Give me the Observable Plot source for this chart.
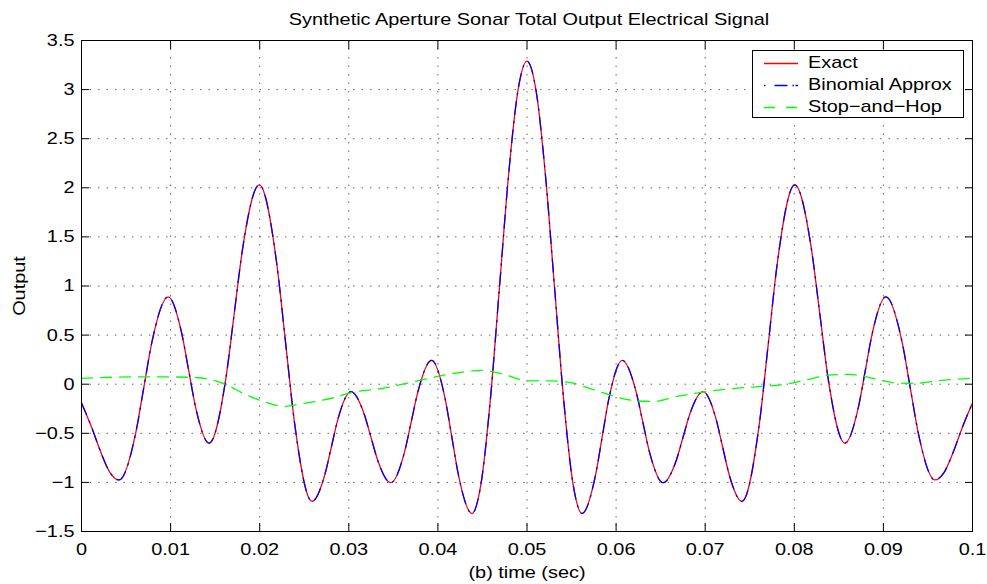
<!DOCTYPE html>
<html>
<head>
<meta charset="utf-8">
<script src="https://cdn.jsdelivr.net/npm/d3@7"></script>
<script src="https://cdn.jsdelivr.net/npm/@observablehq/plot@0.6"></script>
<style>
  html, body { margin: 0; padding: 0; background: #fff; }
  #wrap { position: relative; width: 987px; height: 584px; font-family: 'Liberation Sans', Arial, Helvetica, sans-serif; }
  #legend { position: absolute; left: 752px; top: 50px; width: 210px; height: 66px; border: 1px solid #000; background: #fff; box-sizing: content-box; }
  .row { position: absolute; left: 0; height: 22px; width: 210px; }
  .row svg { position: absolute; left: 11px; top: 10px; }
  .row span { position: absolute; left: 55px; top: 0; line-height: 22px; font-size: 17px; color: #000; white-space: nowrap; transform: scaleX(1.17); transform-origin: 0 50%; }
</style>
</head>
<body>
<div id="wrap"></div>
<script>
const titleText = "Synthetic Aperture Sonar Total Output Electrical Signal";
const xLabel = "(b) time (sec)";
const yLabel = "Output";
const xTicks = [0, 0.01, 0.02, 0.03, 0.04, 0.05, 0.06, 0.07, 0.08, 0.09, 0.1];
const xTickLabels = ["0", "0.01", "0.02", "0.03", "0.04", "0.05", "0.06", "0.07", "0.08", "0.09", "0.1"];
const yTicks = [-1.5, -1, -0.5, 0, 0.5, 1, 1.5, 2, 2.5, 3, 3.5];
const yTickLabels = ["\u22121.5", "\u22121", "\u22120.5", "0", "0.5", "1", "1.5", "2", "2.5", "3", "3.5"];

const seriesNames = ["Exact", "Binomial Approx", "Stop\u2212and\u2212Hop"];
const seriesColors = ["#ff0000", "#0000ff", "#00ff00"];
const seriesDash = [null, "13,7,1.5,7", "11,8"];
const legendDash = [null, "1.5,9,13,5,1.5", "11,11"];

// Exact signal (time in sec, output)
const exactT = [0, 0.0011, 0.0022, 0.0032, 0.00423,
  0.00606, 0.006975, 0.00789, 0.00972,
  0.01125, 0.01202, 0.01279, 0.01432,
  0.0162, 0.017135, 0.01807, 0.01995,
  0.02192, 0.02291, 0.0239, 0.02587,
  0.02733, 0.028055, 0.02878, 0.03024,
  0.03174, 0.032485, 0.03323, 0.03473,
  0.03625, 0.037015, 0.03778, 0.0393,
  0.04081, 0.04156, 0.04231, 0.04382,
  0.04485, 0.04588, 0.04691, 0.04794, 0.04897, 0.05,
  0.05103, 0.05206, 0.05309, 0.05412, 0.05515, 0.05618,
  0.05769, 0.05844, 0.05919, 0.0607,
  0.06222, 0.062985, 0.06375, 0.06527,
  0.06677, 0.067515, 0.06826, 0.06976,
  0.07122, 0.071945, 0.07267, 0.07413,
  0.0761, 0.07709, 0.07808, 0.08005,
  0.08193, 0.082865, 0.0838, 0.08568,
  0.08721, 0.08798, 0.08875, 0.09028,
  0.09211, 0.093025, 0.09394, 0.09577,
  0.0968, 0.0978, 0.0989, 0.1];
const exactY = [-0.19, -0.43, -0.70, -0.90, -0.975,
  -0.509, -0.0425, 0.424, 0.89,
  0.5175, 0.145, -0.2275, -0.60,
  0.0575, 0.715, 1.3725, 2.03,
  1.224, 0.4185, -0.387, -1.193,
  -0.914, -0.6345, -0.355, -0.076,
  -0.308, -0.5395, -0.771, -1.003,
  -0.6915, -0.38, -0.0685, 0.243,
  -0.147, -0.5365, -0.926, -1.316,
  -1.007, -0.1645, 0.987, 2.1385, 2.981, 3.29,
  2.981, 2.1385, 0.987, -0.1645, -1.007, -1.316,
  -0.926, -0.5365, -0.147, 0.243,
  -0.0685, -0.38, -0.6915, -1.003,
  -0.771, -0.5395, -0.308, -0.076,
  -0.355, -0.6345, -0.914, -1.193,
  -0.387, 0.4185, 1.224, 2.03,
  1.3725, 0.715, 0.0575, -0.60,
  -0.2275, 0.145, 0.5175, 0.89,
  0.424, -0.0425, -0.509, -0.975,
  -0.90, -0.70, -0.43, -0.19];

// Binomial approximation (visually identical to the exact signal)
const binomialT = exactT.slice();
const binomialY = [-0.19, -0.43, -0.70, -0.90, -0.975,
  -0.509, -0.0425, 0.424, 0.89,
  0.5175, 0.145, -0.2275, -0.60,
  0.0575, 0.715, 1.3725, 2.03,
  1.224, 0.4185, -0.387, -1.193,
  -0.914, -0.6345, -0.355, -0.076,
  -0.308, -0.5395, -0.771, -1.003,
  -0.6915, -0.38, -0.0685, 0.243,
  -0.147, -0.5365, -0.926, -1.316,
  -1.007, -0.1645, 0.987, 2.1385, 2.981, 3.29,
  2.981, 2.1385, 0.987, -0.1645, -1.007, -1.316,
  -0.926, -0.5365, -0.147, 0.243,
  -0.0685, -0.38, -0.6915, -1.003,
  -0.771, -0.5395, -0.308, -0.076,
  -0.355, -0.6345, -0.914, -1.193,
  -0.387, 0.4185, 1.224, 2.03,
  1.3725, 0.715, 0.0575, -0.60,
  -0.2275, 0.145, 0.5175, 0.89,
  0.424, -0.0425, -0.509, -0.975,
  -0.90, -0.70, -0.43, -0.19];

// Stop-and-hop approximation
const stopT = [0, 0.004, 0.008, 0.0123, 0.0142, 0.0161, 0.0183, 0.0209, 0.0228, 0.0247, 0.0284, 0.0303, 0.0336, 0.0374,
  0.0411, 0.0449, 0.0474, 0.0501, 0.0526, 0.0552, 0.0575, 0.0597, 0.0623, 0.0642, 0.0668, 0.0694, 0.0724, 0.0761,
  0.0791, 0.0814, 0.0836, 0.0862, 0.0889, 0.0911, 0.0933, 0.096, 0.1];
const stopY = [0.06, 0.072, 0.075, 0.07, 0.055, 0.0, -0.10, -0.19, -0.225, -0.20, -0.135, -0.085, -0.045, 0.027,
  0.10, 0.14, 0.10, 0.034, 0.034, 0.01, -0.058, -0.12, -0.17, -0.175, -0.125, -0.085, -0.05, -0.024,
  0.0, 0.044, 0.09, 0.10, 0.058, 0.017, 0.007, 0.034, 0.062];

const toRows = (T, Y) => T.map((t, i) => ({t, v: Y[i]}));
const exact = toRows(exactT, exactY);
const binomial = toRows(binomialT, binomialY);
const stop = toRows(stopT, stopY);

const xFmt = d => xTickLabels[xTicks.findIndex(t => Math.abs(t - d) < 1e-9)];
const yFmt = d => yTickLabels[yTicks.findIndex(t => Math.abs(t - d) < 1e-9)];
const gridStyle = {stroke: "#000", strokeOpacity: 0.6, strokeDasharray: "1.5,7"};

const chart = Plot.plot({
  width: 987,
  height: 584,
  marginLeft: 81,
  marginRight: 15,
  marginTop: 40,
  marginBottom: 53,
  style: {fontFamily: "'Liberation Sans', Arial, Helvetica, sans-serif", fontSize: "17px", background: "#fff", color: "#000", overflow: "visible"},
  x: {domain: [0, 0.1], label: null},
  y: {domain: [-1.5, 3.5], label: null},
  marks: [
    Plot.gridX(xTicks.slice(1, -1), gridStyle),
    Plot.gridY(yTicks.slice(1, -1), gridStyle),
    Plot.line(exact, {x: "t", y: "v", stroke: seriesColors[0], strokeWidth: 1.3, curve: "monotone-x"}),
    Plot.line(binomial, {x: "t", y: "v", stroke: seriesColors[1], strokeWidth: 1.3, strokeDasharray: seriesDash[1], curve: "monotone-x"}),
    Plot.line(stop, {x: "t", y: "v", stroke: seriesColors[2], strokeWidth: 1.3, strokeDasharray: seriesDash[2], curve: "monotone-x"}),
    Plot.frame({stroke: "#000", strokeWidth: 1}),
    Plot.axisX(xTicks, {tickSize: 0, tickPadding: 11, tickFormat: xFmt, fontSize: 17, label: xLabel, labelAnchor: "center", labelArrow: "none", labelOffset: 46}),
    Plot.axisX(xTicks, {tickSize: -8, fill: "none", stroke: "#000"}),
    Plot.axisX(xTicks, {anchor: "top", tickSize: -8, fill: "none", stroke: "#000"}),
    Plot.axisY(yTicks, {tickSize: 0, tickPadding: 7, tickFormat: yFmt, fontSize: 17, label: yLabel, labelAnchor: "center", labelArrow: "none", labelOffset: 69}),
    Plot.axisY(yTicks, {tickSize: -8, fill: "none", stroke: "#000"}),
    Plot.axisY(yTicks, {anchor: "right", tickSize: -8, fill: "none", stroke: "#000"}),
    Plot.text([titleText], {text: d => d, frameAnchor: "top", lineAnchor: "top", dy: -28, dx: 2, fontSize: 17, fill: "#000"})
  ]
});

// Widen glyphs horizontally to match the reference typeface proportions
const S = 1.17;
d3.select(chart).selectAll("text").each(function() {
  const x = this.getAttribute("x");
  let tr = this.getAttribute("transform") || "";
  if (x !== null && !isNaN(+x)) {
    tr += ` translate(${+x},0)`;
    this.removeAttribute("x");
  }
  this.setAttribute("transform", (tr + ` scale(${S},1)`).trim());
});

const wrap = document.getElementById("wrap");
wrap.appendChild(chart);

// Legend
const legend = document.createElement("div");
legend.id = "legend";
seriesNames.forEach((name, i) => {
  const row = document.createElement("div");
  row.className = "row";
  row.style.top = (1 + i * 22) + "px";
  const svg = d3.create("svg").attr("width", 34).attr("height", 3);
  svg.append("line").attr("x1", 0).attr("x2", 34).attr("y1", 1.5).attr("y2", 1.5)
    .attr("stroke", seriesColors[i]).attr("stroke-width", 1.3)
    .attr("stroke-dasharray", legendDash[i]);
  row.appendChild(svg.node());
  const span = document.createElement("span");
  span.textContent = name;
  row.appendChild(span);
  legend.appendChild(row);
});
wrap.appendChild(legend);
</script>
</body>
</html>
